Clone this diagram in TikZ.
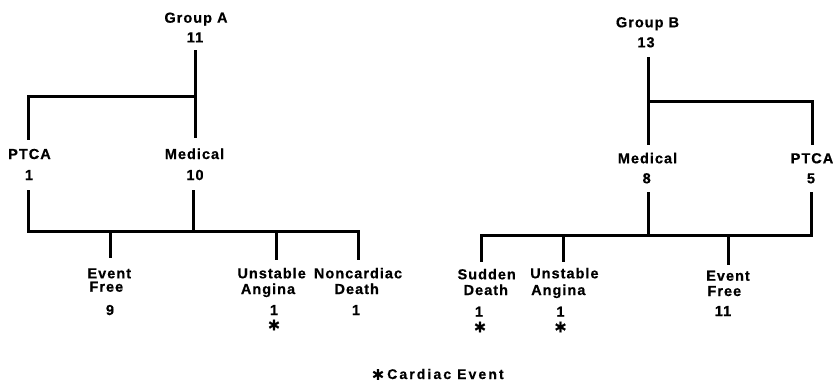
\documentclass[tikz,border=0pt]{standalone}
\usepackage{fontspec}
\setmainfont{Liberation Sans}[LetterSpace=7, BoldFeatures={FakeBold=0.6}]
\newfontfamily\legfont{Liberation Sans}[LetterSpace=15, BoldFeatures={FakeBold=0.6}]
\newfontfamily\starfont{DejaVu Sans}[BoldFeatures={FakeBold=0.6}]
\begin{document}
\begin{tikzpicture}[x=1pt,y=-1pt,
  txt/.style={inner sep=0pt, anchor=base, font=\fontsize{14.5}{14.5}\selectfont\bfseries},
  txtl/.style={txt, anchor=base west},
  legtxt/.style={inner sep=0pt, anchor=base west, font=\legfont\fontsize{14}{14}\selectfont\bfseries},
  starn/.style={inner sep=0pt, anchor=center, font=\starfont\bfseries\fontsize{17}{17}\selectfont},
  branch/.style={line width=3pt, line cap=butt, line join=miter}]
\useasboundingbox (0,0) rectangle (834,389);
% ---------- Group A text ----------
\node[txt] (gA)  at (196,22.7) {Group A};
\node[txt] (gAn) at (195,42.3) {11};
\node[txt] (pA)  at (29.5,159) {PTCA};
\node[txt] (pAn) at (29,180) {1};
\node[txt] (mA)  at (194.5,159) {Medical};
\node[txt] (mAn) at (195,180) {10};
\node[txtl] (efA1) at (87.3,278.3) {Event};
\node[txtl] (efA2) at (89.3,291.7) {Free};
\node[txt] (efAn) at (110,315) {9};
\node[txtl] (uaA1) at (237.3,278.3) {Unstable};
\node[txtl] (uaA2) at (240.7,294) {Angina};
\node[txt] (uaAn) at (274,315) {1};
\node[starn] (uaAs) at (274,325) {∗};
\node[txt] (ndA1) at (358,278.3) {Noncardiac};
\node[txt] (ndA2) at (356.7,294) {Death};
\node[txt] (ndAn) at (356,315) {1};
% ---------- Group A lines ----------
\coordinate (gAtop) at (195,50);
\coordinate (gAbot) at (195,138);
\coordinate (jA)    at (195,96);
\coordinate (pAtop) at (28,140);
\coordinate (pAa)   at (28,190);
\coordinate (mAa)   at (193,190);
\coordinate (mAb)   at (193,231);
\coordinate (barAR) at (358,231);
\coordinate (ndAe)  at (358,260);
\coordinate (efAa)  at (110,231);
\coordinate (efAe)  at (110,258);
\coordinate (uaAa)  at (276,231);
\coordinate (uaAe)  at (276,260);
\draw[branch] (gAtop) -- (gAbot);
\draw[branch] (jA) -| (pAtop);
\draw[branch] (pAa) |- (barAR) -- (ndAe);
\draw[branch] (mAa) -- (mAb);
\draw[branch] (efAa) -- (efAe);
\draw[branch] (uaAa) -- (uaAe);
% ---------- Group B text ----------
\node[txt] (gB)  at (647.5,27.3) {Group B};
\node[txt] (gBn) at (646,47.3) {13};
\node[txt] (mB)  at (647.5,163.3) {Medical};
\node[txt] (mBn) at (646.7,183.3) {8};
\node[txt] (pB)  at (812,163.3) {PTCA};
\node[txt] (pBn) at (811,183.3) {5};
\node[txt] (sdB1) at (486.7,279.3) {Sudden};
\node[txt] (sdB2) at (485.8,295) {Death};
\node[txt] (sdBn) at (479,316.7) {1};
\node[starn] (sdBs) at (480,327) {∗};
\node[txtl] (uaB1) at (530,278.3) {Unstable};
\node[txtl] (uaB2) at (531,295) {Angina};
\node[txt] (uaBn) at (560.5,316.7) {1};
\node[starn] (uaBs) at (560.5,327) {∗};
\node[txtl] (efB1) at (706,280.7) {Event};
\node[txtl] (efB2) at (707.3,296) {Free};
\node[txt] (efBn) at (723,316) {11};
% ---------- Group B lines ----------
\coordinate (gBtop) at (648,57);
\coordinate (gBbot) at (648,145);
\coordinate (jB)    at (648,101);
\coordinate (pBtop) at (812,145);
\coordinate (mBa)   at (648,192);
\coordinate (mBb)   at (648,235);
\coordinate (pBa)   at (811,192);
\coordinate (barBL) at (481,235);
\coordinate (sdBe)  at (481,262);
\coordinate (uaBa)  at (563,235);
\coordinate (uaBe)  at (563,262);
\coordinate (efBa)  at (728,235);
\coordinate (efBe)  at (728,265);
\draw[branch] (gBtop) -- (gBbot);
\draw[branch] (jB) -| (pBtop);
\draw[branch] (pBa) |- (barBL) -- (sdBe);
\draw[branch] (mBa) -- (mBb);
\draw[branch] (uaBa) -- (uaBe);
\draw[branch] (efBa) -- (efBe);
% ---------- Legend ----------
\node[starn] (legs) at (378,374.5) {∗};
\node[legtxt] (legt) at (387,379) {Cardiac Event};
\end{tikzpicture}
\end{document}
